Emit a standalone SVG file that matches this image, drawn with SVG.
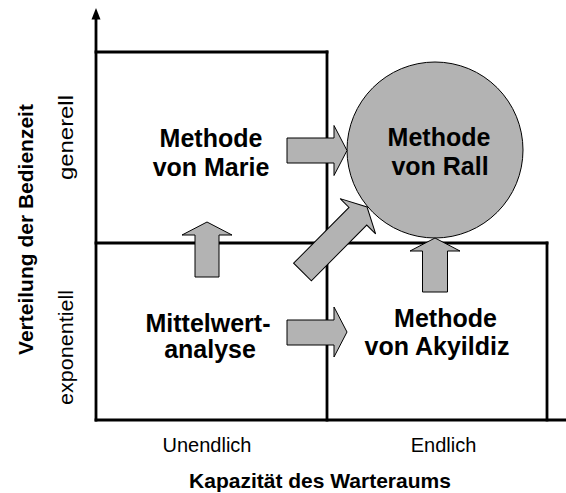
<svg xmlns="http://www.w3.org/2000/svg" width="566" height="493" viewBox="0 0 566 493">
<style>
.ln{stroke:#000;stroke-width:2.8;fill:none;stroke-linecap:square}
.arr{fill:#b3b3b3;stroke:#000;stroke-width:1}
.big{font-family:"Liberation Sans",Arial,sans-serif;font-weight:bold;font-size:25px;text-anchor:middle;fill:#000}
.ax{font-family:"Liberation Sans",Arial,sans-serif;font-weight:bold;font-size:21px;text-anchor:middle;fill:#000}
.tk{font-family:"Liberation Sans",Arial,sans-serif;font-size:20px;text-anchor:middle;fill:#000}
</style>
<rect width="566" height="493" fill="#fff"/>
<g id="axes">
<line class="ln" x1="96" y1="19" x2="96" y2="420"/>
<polygon points="96,8 91.5,19.5 100.5,19.5" fill="#000"/>
<line class="ln" x1="96" y1="420" x2="566" y2="420"/>
<line class="ln" x1="96" y1="52" x2="327" y2="52"/>
<line class="ln" x1="327" y1="52" x2="327" y2="420"/>
<line class="ln" x1="96" y1="243" x2="547" y2="243"/>
<line class="ln" x1="547" y1="243" x2="547" y2="420"/>
<text class="ax" transform="translate(32.5,229.5) rotate(-90)">Verteilung der Bedienzeit</text>
<text class="tk" transform="translate(72.5,137.5) rotate(-90)" textLength="85" lengthAdjust="spacingAndGlyphs">generell</text>
<text class="tk" transform="translate(72.5,347.5) rotate(-90)" textLength="115" lengthAdjust="spacingAndGlyphs">exponentiell</text>
<text class="tk" x="207" y="452">Unendlich</text>
<text class="tk" x="443.5" y="452">Endlich</text>
<text class="ax" x="320" y="488">Kapazität des Warteraums</text>
</g>
<g id="node-rall">
<circle cx="435" cy="150" r="88" fill="#b3b3b3" stroke="#000" stroke-width="1"/>
<text class="big" x="439" y="146">Methode</text>
<text class="big" x="440" y="175">von Rall</text>
</g>
<g id="node-marie">
<text class="big" x="211" y="147">Methode</text>
<text class="big" x="211" y="176">von Marie</text>
</g>
<g id="node-mittelwert">
<text class="big" x="208" y="332">Mittelwert-</text>
<text class="big" x="210" y="358">analyse</text>
</g>
<g id="node-akyildiz">
<text class="big" x="445.5" y="327">Methode</text>
<text class="big" x="437" y="355">von Akyildiz</text>
</g>
<g id="connectors">
<polygon class="arr" points="287,138 334,138 334,125.5 347,150.5 334,175.5 334,163 287,163"/>
<polygon class="arr" points="287,320 334,320 334,307 347,332 334,357 334,345 287,345"/>
<polygon class="arr" points="195,277 195,235 182,235 207,222 232,235 219,235 219,277"/>
<polygon class="arr" points="422.5,292 422.5,251 410,251 435,238 460,251 447.5,251 447.5,292"/>
<polygon class="arr" transform="translate(302.5,272) rotate(-45.2)" points="0,-12.5 78.6,-12.5 78.6,-25 91.6,0 78.6,25 78.6,12.5 0,12.5"/>
</g>
</svg>
